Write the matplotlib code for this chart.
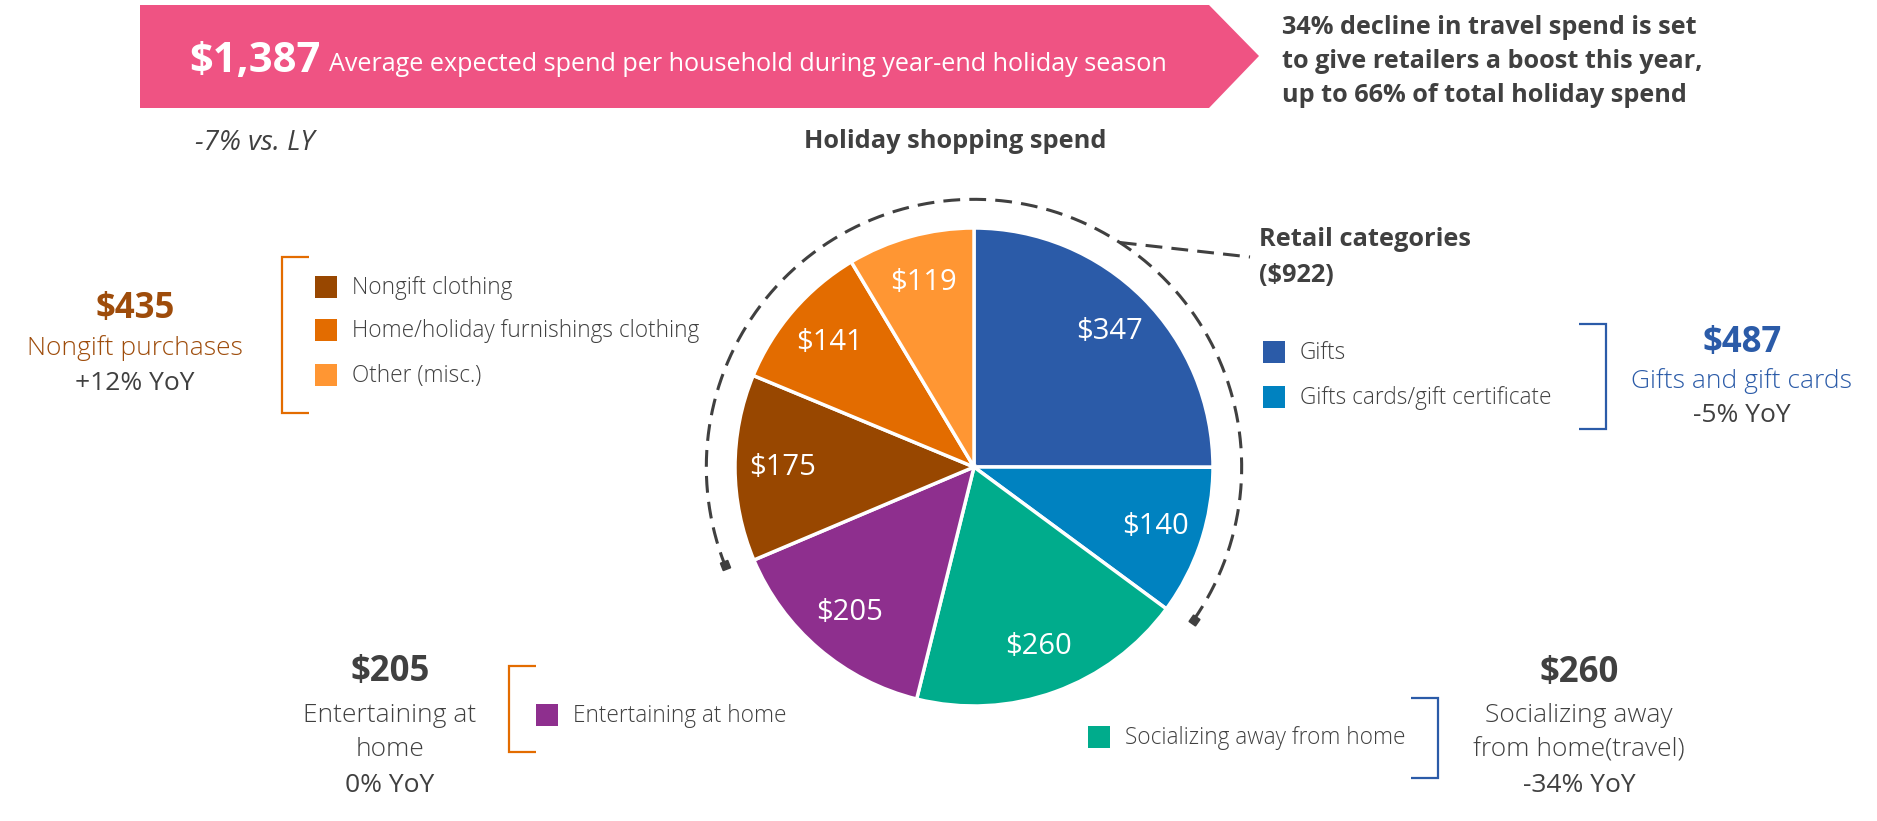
import numpy as np
import matplotlib
matplotlib.use("Agg")
import matplotlib.pyplot as plt
from matplotlib.patches import Polygon, Rectangle

### data
categories = [
    "Gifts",
    "Gifts cards/gift certificate",
    "Socializing away from home",
    "Entertaining at home",
    "Nongift clothing",
    "Home/holiday furnishings clothing",
    "Other (misc.)",
]
spend = [347, 140, 260, 205, 175, 141, 119]
colors = ["#2B5BA8", "#0082C0", "#00AC8C", "#8E2F8E", "#984700", "#E36C00", "#FF9633"]
retail_idx = [0, 1, 4, 5, 6]

total_spend = sum(spend)
retail_spend = sum(spend[i] for i in retail_idx)
gifts_spend = spend[0] + spend[1]
nongift_spend = spend[4] + spend[5] + spend[6]

yoy_total = "-7% vs. LY"
yoy_gifts = "-5% YoY"
yoy_nongift = "+12% YoY"
yoy_home = "0% YoY"
yoy_travel = "-34% YoY"

### constants
W, H = 1877, 821
DARK = "#404040"
PINK = "#EF5383"
BLUE = "#2B5BA8"
ORANGE = "#E36C00"
BROWN = "#9E4C0B"
FONT = "Open Sans"

CX, CY, R = 974, 467, 239  # pie centre / radius in pixels
ARC_R = 1.12  # dashed arc radius relative to pie
DASH = (0, (5.5, 3))
DY = 3  # small nudge for centred text


def bracket(ax, x, y0, y1, tick, color):
    ax.plot([x + tick, x, x, x + tick], [y0, y0, y1, y1], color=color, lw=1.6,
            solid_capstyle="butt", solid_joinstyle="miter")


def legend_item(ax, x, y, color, label, size=22):
    ax.add_patch(Rectangle((x, y - size / 2), size, size, color=color, lw=0))
    ax.text(x + size + 15, y + 1, label, ha="left", va="center", fontsize=16.3,
            color=DARK, family=FONT, fontweight="light")


def main():
    fig = plt.figure(figsize=(W / 100, H / 100), dpi=100)
    fig.patch.set_facecolor("white")

    ax = fig.add_axes([0, 0, 1, 1])
    ax.set_xlim(0, W)
    ax.set_ylim(H, 0)
    ax.axis("off")

    # banner
    ax.add_patch(Polygon([(140, 5), (1209, 5), (1259, 56), (1209, 108), (140, 108)],
                         closed=True, color=PINK, lw=0))
    ax.text(189, 72, f"${total_spend:,}", ha="left", va="baseline", fontsize=30,
            color="white", fontweight="bold", family=FONT)
    ax.text(329, 71, "Average expected spend per household during year-end holiday season",
            ha="left", va="baseline", fontsize=18.1, color="white", family=FONT)

    for i, line in enumerate(["34% decline in travel spend is set",
                              "to give retailers a boost this year,",
                              "up to 66% of total holiday spend"]):
        ax.text(1282, 24 + DY + i * 34.5, line, ha="left", va="center", fontsize=18.2,
                color=DARK, fontweight="bold", family=FONT)

    ax.text(195, 140 + DY, yoy_total, ha="left", va="center", fontsize=20, color=DARK,
            style="italic", family=FONT)
    ax.text(955, 139 + DY, "Holiday shopping spend", ha="center", va="center",
            fontsize=18.3, color=DARK, fontweight="bold", family=FONT)

    # retail categories label + leader
    ax.text(1259, 237 + DY, "Retail categories", ha="left", va="center", fontsize=18.3,
            color=DARK, fontweight="bold", family=FONT)
    ax.text(1259, 272 + DY, f"(${retail_spend})", ha="left", va="center", fontsize=18.3,
            color=DARK, fontweight="bold", family=FONT)
    a = np.deg2rad(57)
    ax.plot([CX + ARC_R * R * np.cos(a), 1250], [CY - ARC_R * R * np.sin(a), 257],
            color=DARK, lw=2.2, ls=DASH)

    # left group: nongift
    ax.text(135, 306 + DY, f"${nongift_spend}", ha="center", va="center", fontsize=25,
            color=BROWN, fontweight="bold", family=FONT)
    ax.text(135, 345 + DY, "Nongift purchases", ha="center", va="center", fontsize=19,
            color=BROWN, family=FONT, fontweight="light")
    ax.text(135, 381 + DY, yoy_nongift, ha="center", va="center", fontsize=19,
            color=DARK, family=FONT)
    bracket(ax, 282, 257, 413, 27, ORANGE)
    for y, i in zip([287, 330, 375], [4, 5, 6]):
        legend_item(ax, 315, y, colors[i], categories[i])

    # right group: gifts
    bracket(ax, 1606, 324, 429, -27, BLUE)
    for y, i in zip([352, 397], [0, 1]):
        legend_item(ax, 1263, y, colors[i], categories[i])
    ax.text(1742, 340 + DY, f"${gifts_spend}", ha="center", va="center", fontsize=25,
            color=BLUE, fontweight="bold", family=FONT)
    ax.text(1742, 378 + DY, "Gifts and gift cards", ha="center", va="center",
            fontsize=19, color=BLUE, family=FONT, fontweight="light")
    ax.text(1742, 413 + DY, yoy_gifts, ha="center", va="center", fontsize=19,
            color=DARK, family=FONT)

    # bottom left: entertaining
    ax.text(390, 669 + DY, f"${spend[3]}", ha="center", va="center", fontsize=25,
            color=DARK, fontweight="bold", family=FONT)
    ax.text(390, 712 + DY, "Entertaining at", ha="center", va="center", fontsize=19,
            color=DARK, family=FONT, fontweight="light")
    ax.text(390, 747 + DY, "home", ha="center", va="center", fontsize=19,
            color=DARK, family=FONT, fontweight="light")
    ax.text(390, 783 + DY, yoy_home, ha="center", va="center", fontsize=19,
            color=DARK, family=FONT)
    bracket(ax, 509, 666, 752, 27, ORANGE)
    legend_item(ax, 536, 715, colors[3], categories[3])

    # bottom right: socializing
    ax.text(1579, 670 + DY, f"${spend[2]}", ha="center", va="center", fontsize=25,
            color=DARK, fontweight="bold", family=FONT)
    ax.text(1579, 712 + DY, "Socializing away", ha="center", va="center", fontsize=19,
            color=DARK, family=FONT, fontweight="light")
    ax.text(1579, 747 + DY, "from home(travel)", ha="center", va="center", fontsize=19,
            color=DARK, family=FONT, fontweight="light")
    ax.text(1579, 783 + DY, yoy_travel, ha="center", va="center", fontsize=19,
            color=DARK, family=FONT)
    bracket(ax, 1438, 698, 778, -27, BLUE)
    legend_item(ax, 1088, 737, colors[2], categories[2])

    # pie
    half = 1.3
    side = 2 * half * R
    pax = fig.add_axes([(CX - side / 2) / W, (H - CY - side / 2) / H, side / W, side / H])
    pax.pie(
        spend,
        colors=colors,
        startangle=90,
        counterclock=False,
        radius=1,
        wedgeprops=dict(edgecolor="white", linewidth=2.5),
        autopct=lambda p: f"${round(p * total_spend / 100)}",
        pctdistance=0.8,
        textprops=dict(color="white", fontsize=21, family=FONT, fontweight="medium"),
    )
    pax.set_xlim(-half, half)
    pax.set_ylim(-half, half)
    pax.axis("off")

    # dashed arc round the retail slices
    start = 90 - 360 * gifts_spend / total_spend + 1.5
    end = 90 + 360 * nongift_spend / total_spend - 1.5
    t = np.deg2rad(np.linspace(start, end, 400))
    pax.plot(ARC_R * np.cos(t), ARC_R * np.sin(t), color=DARK, lw=2.2, ls=DASH)
    for ang, rot in ((start, start + 45), (end, end + 45)):
        r = np.deg2rad(ang)
        pax.plot(ARC_R * np.cos(r), ARC_R * np.sin(r), marker=(4, 0, rot), ms=8,
                 color=DARK)

    fig.savefig("out.png", dpi=100, facecolor="white")


if __name__ == "__main__":
    main()
